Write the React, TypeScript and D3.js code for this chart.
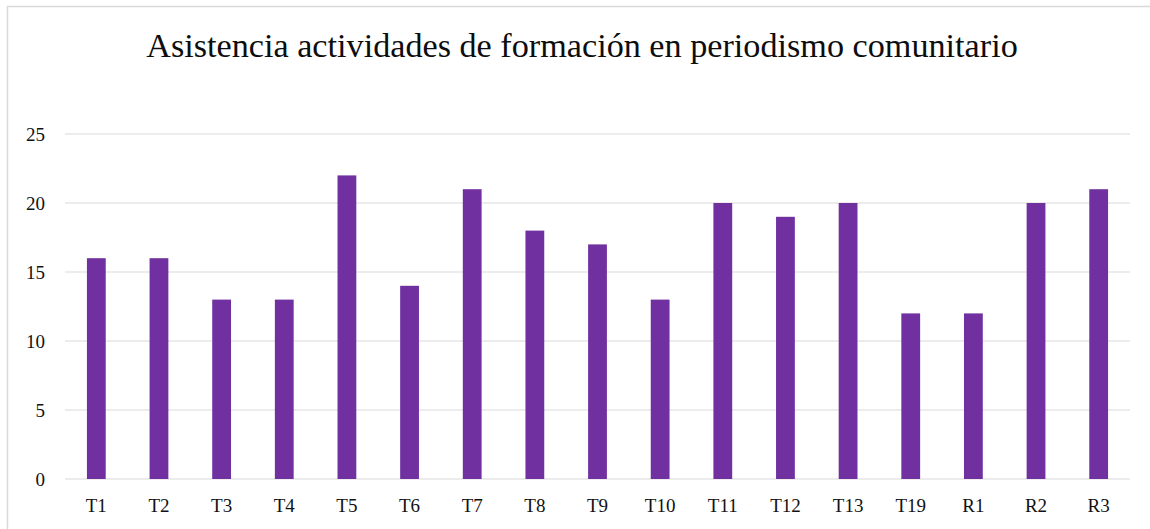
import React, { useEffect, useRef } from 'react';
import * as d3 from 'd3';

const categories = ['T1', 'T2', 'T3', 'T4', 'T5', 'T6', 'T7', 'T8', 'T9', 'T10', 'T11', 'T12', 'T13', 'T19', 'R1', 'R2', 'R3'];
const asistencia = [16, 16, 13, 13, 22, 14, 21, 18, 17, 13, 20, 19, 20, 12, 12, 20, 21];
const yTicks = [0, 5, 10, 15, 20, 25];
const title = 'Asistencia actividades de formación en periodismo comunitario';

const App = () => {
  const svgRef = useRef<SVGSVGElement>(null);

  useEffect(() => {
    const svg = d3.select(svgRef.current);
    svg.selectAll('*').remove();

    const width = 1150;
    const height = 529;
    const margin = { top: 134, right: 20, bottom: 50, left: 65 };
    const innerWidth = 1130 - margin.left;
    const innerHeight = height - margin.top - margin.bottom;

    const font = '"Liberation Serif", "Times New Roman", serif';

    // outer frame (only top and left edges are visible)
    svg
      .append('rect')
      .attr('x', 7.5)
      .attr('y', 6.5)
      .attr('width', width + 20)
      .attr('height', height + 20)
      .attr('fill', 'white')
      .attr('stroke', '#d9d9d9')
      .attr('stroke-width', 1.5);

    const xScale = d3.scaleBand().domain(categories).range([0, innerWidth]).paddingInner(0.7).paddingOuter(0.35);
    const yScale = d3.scaleLinear().domain([0, 25]).range([innerHeight, 0]);

    const g = svg.append('g').attr('transform', `translate(${margin.left}, ${margin.top})`);

    // gridlines
    g.selectAll('.grid')
      .data(yTicks)
      .join('line')
      .attr('class', 'grid')
      .attr('x1', 0)
      .attr('x2', innerWidth)
      .attr('y1', (d) => yScale(d))
      .attr('y2', (d) => yScale(d))
      .attr('stroke', '#d9d9d9')
      .attr('stroke-width', 1.2);

    // y tick labels
    g.selectAll('.y-label')
      .data(yTicks)
      .join('text')
      .attr('class', 'y-label')
      .attr('x', -20)
      .attr('y', (d) => yScale(d))
      .attr('dy', '0.35em')
      .attr('text-anchor', 'end')
      .attr('font-family', font)
      .attr('font-size', 19)
      .attr('fill', '#111')
      .text((d) => d);

    // bars
    g.selectAll('.bar')
      .data(asistencia)
      .join('rect')
      .attr('class', 'bar')
      .attr('x', (d, i) => xScale(categories[i]) as number)
      .attr('y', (d) => yScale(d))
      .attr('width', xScale.bandwidth())
      .attr('height', (d) => innerHeight - yScale(d))
      .attr('fill', '#7030a0');

    // x labels
    g.selectAll('.x-label')
      .data(categories)
      .join('text')
      .attr('class', 'x-label')
      .attr('x', (d) => (xScale(d) as number) + xScale.bandwidth() / 2)
      .attr('y', innerHeight + 26)
      .attr('dy', '0.35em')
      .attr('text-anchor', 'middle')
      .attr('font-family', font)
      .attr('font-size', 19)
      .attr('fill', '#111')
      .text((d) => d);

    // title
    svg
      .append('text')
      .attr('x', 582)
      .attr('y', 57)
      .attr('text-anchor', 'middle')
      .attr('font-family', font)
      .attr('font-size', 34.2)
      .attr('fill', '#0d0d0d')
      .text(title);
  }, []);

  return (
    <svg
      ref={svgRef}
      width={1150}
      height={529}
      style={{ position: 'absolute', left: 0, top: 0, background: 'white' }}
    />
  );
};

export default App;
